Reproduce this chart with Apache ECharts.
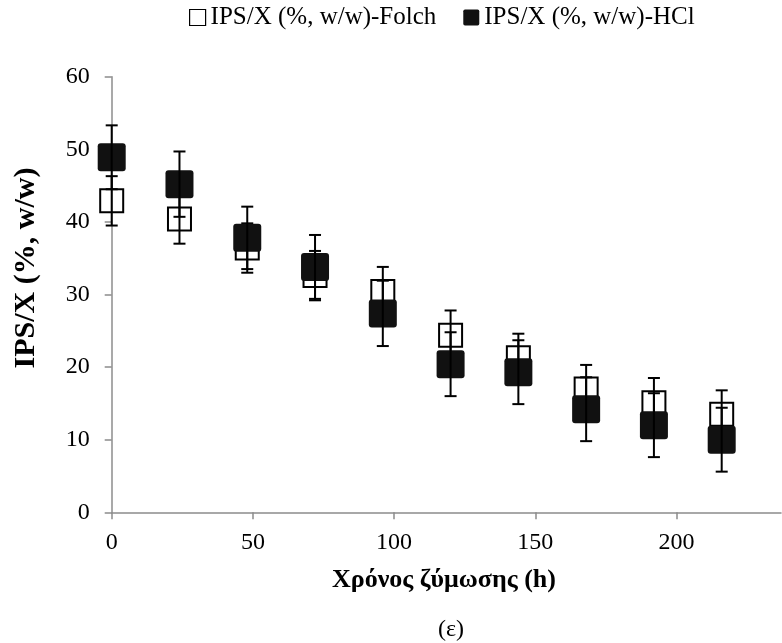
<!DOCTYPE html>
<html>
<head>
<meta charset="utf-8">
<script src="https://cdn.jsdelivr.net/npm/echarts@6/dist/echarts.min.js"></script>
<style>html,body{margin:0;padding:0;background:#fff}#c{width:782px;height:643px}</style>
</head>
<body>
<div id="c"></div>
<script>
var hours = [0, 24, 48, 72, 96, 120, 144, 168, 192, 216];
var folchValues = [42.9, 40.4, 36.4, 32.6, 30.4, 24.4, 21.3, 17.0, 15.1, 13.5];
var folchErrors = [3.4, 3.4, 3.4, 3.4, 3.4, 3.4, 3.3, 3.3, 3.4, 3.3];
var hclValues = [48.9, 45.2, 37.8, 33.8, 27.4, 20.4, 19.3, 14.2, 12.0, 10.0];
var hclErrors = [4.4, 4.5, 4.3, 4.4, 4.5, 4.4, 4.4, 4.4, 4.4, 4.4];
var xTicks = [0, 50, 100, 150, 200];
var folchName = 'IPS/X (%, w/w)-Folch';
var hclName = 'IPS/X (%, w/w)-HCl';
var xTitle = 'Χρόνος ζύμωσης (h)';
var yTitle = 'IPS/X (%, w/w)';
var caption = '(ε)';

var FONT = '"Liberation Serif", "Times New Roman", serif';
var roundSq = 'path://M3,0 H25 Q28,0 28,3 V25 Q28,28 25,28 H3 Q0,28 0,25 V3 Q0,0 3,0 Z';

function pts(v) { return hours.map(function (h, i) { return [h, v[i]]; }); }
function errs(v, e) { return hours.map(function (h, i) { return [h, v[i] - e[i], v[i] + e[i]]; }); }

function errRender(params, api) {
  var x = api.value(0);
  var lo = api.coord([x, api.value(1)]);
  var hi = api.coord([x, api.value(2)]);
  var hw = 6;
  var st = { stroke: '#000', lineWidth: 2 };
  return {
    type: 'group',
    children: [
      { type: 'line', shape: { x1: lo[0], y1: lo[1], x2: hi[0], y2: hi[1] }, style: st },
      { type: 'line', shape: { x1: lo[0] - hw, y1: lo[1], x2: lo[0] + hw, y2: lo[1] }, style: st },
      { type: 'line', shape: { x1: hi[0] - hw, y1: hi[1], x2: hi[0] + hw, y2: hi[1] }, style: st }
    ]
  };
}

var chart = echarts.init(document.getElementById('c'), null, { renderer: 'canvas' });
chart.setOption({
  backgroundColor: '#fff',
  animation: false,
  textStyle: { fontFamily: FONT },
  legend: {
    top: 0,
    left: 184,
    itemWidth: 16,
    itemHeight: 16,
    itemGap: 27,
    textStyle: { fontFamily: FONT, fontSize: 25, color: '#000' },
    data: [
      { name: folchName, icon: 'rect', itemStyle: { color: '#fff', borderColor: '#000', borderWidth: 1.2 } },
      { name: hclName, icon: roundSq, itemStyle: { color: '#111', borderWidth: 0 } }
    ]
  },
  grid: { left: 111.7, top: 76.7, right: 1, bottom: 130.7, containLabel: false },
  xAxis: {
    type: 'value', min: 0, max: 237, interval: 50,
    axisLine: { lineStyle: { color: '#8c8c8c', width: 1.5 } },
    axisTick: { show: true, length: 7, customValues: xTicks, lineStyle: { color: '#8c8c8c', width: 1.5 } },
    axisLabel: { fontFamily: FONT, fontSize: 24, color: '#000', margin: 18, customValues: xTicks },
    splitLine: { show: false }
  },
  yAxis: {
    type: 'value', min: 0, max: 60, interval: 10,
    axisLine: { show: true, lineStyle: { color: '#8c8c8c', width: 1.5 } },
    axisTick: { show: true, length: 7, lineStyle: { color: '#8c8c8c', width: 1.5 } },
    axisLabel: { fontFamily: FONT, fontSize: 24, color: '#000', margin: 22 },
    splitLine: { show: false }
  },
  graphic: [
    { type: 'text', x: 444, y: 580, style: { text: xTitle, fontFamily: FONT, fontSize: 26, fontWeight: 'bold', fill: '#000', align: 'center', verticalAlign: 'middle' } },
    { type: 'text', x: 26, y: 268, rotation: Math.PI / 2, style: { text: yTitle, fontFamily: FONT, fontSize: 30, fontWeight: 'bold', fill: '#000', align: 'center', verticalAlign: 'middle' } },
    { type: 'text', x: 451, y: 630, style: { text: caption, fontFamily: FONT, fontSize: 24, fill: '#000', align: 'center', verticalAlign: 'middle' } }
  ],
  series: [
    {
      name: folchName, type: 'scatter', z: 2, data: pts(folchValues),
      symbol: 'rect', symbolSize: 23,
      itemStyle: { color: 'rgba(255,255,255,0)', borderColor: '#000', borderWidth: 2, opacity: 1 }
    },
    {
      name: folchName + ' err', type: 'custom', z: 3, data: errs(folchValues, folchErrors),
      renderItem: errRender, silent: true
    },
    {
      name: hclName, type: 'scatter', z: 4, data: pts(hclValues),
      symbol: roundSq, symbolSize: 28,
      itemStyle: { color: '#111', borderWidth: 0, opacity: 1 }
    },
    {
      name: hclName + ' err', type: 'custom', z: 5, data: errs(hclValues, hclErrors),
      renderItem: errRender, silent: true
    }
  ]
});
</script>
</body>
</html>
